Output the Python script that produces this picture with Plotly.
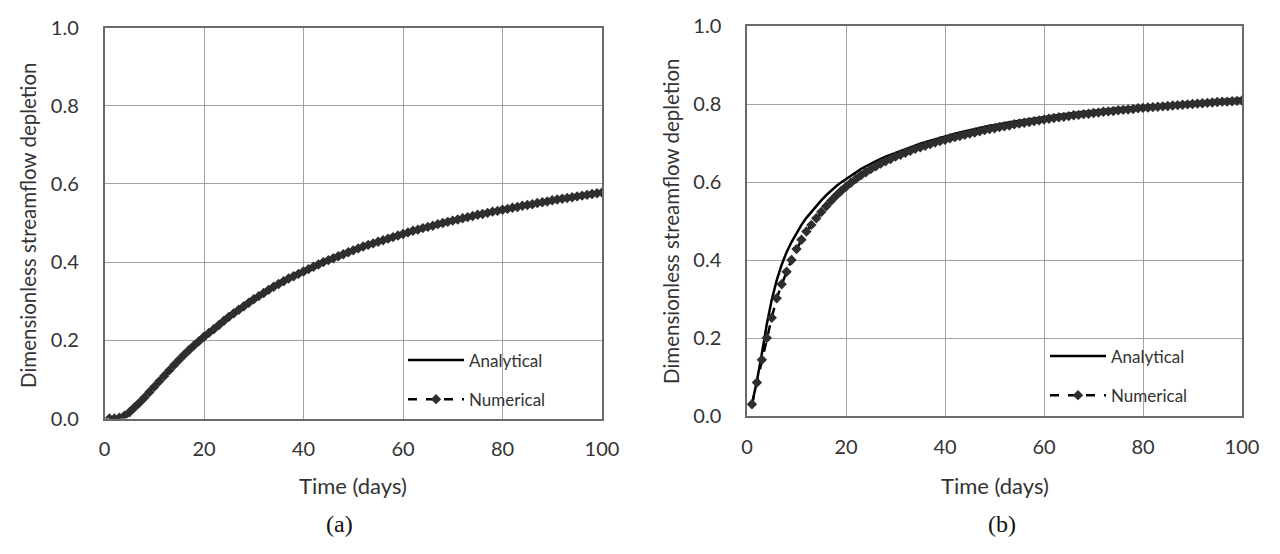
import plotly.graph_objects as go

# ---------------- data ----------------
days = list(range(1, 101))

# Panel (a)
analytical_a = [
    0.000, 0.000, 0.002, 0.008, 0.017, 0.029, 0.042, 0.056, 0.070, 0.084,
    0.098, 0.112, 0.126, 0.140, 0.153, 0.166, 0.178, 0.190, 0.201, 0.212,
    0.222, 0.232, 0.242, 0.252, 0.262, 0.271, 0.280, 0.289, 0.298, 0.307,
    0.315, 0.323, 0.331, 0.339, 0.346, 0.353, 0.360, 0.366, 0.372, 0.378,
    0.384, 0.390, 0.396, 0.402, 0.407, 0.412, 0.417, 0.422, 0.427, 0.432,
    0.437, 0.442, 0.446, 0.450, 0.454, 0.458, 0.462, 0.466, 0.470, 0.474,
    0.478, 0.482, 0.485, 0.489, 0.492, 0.495, 0.499, 0.502, 0.505, 0.508,
    0.511, 0.514, 0.517, 0.520, 0.523, 0.525, 0.528, 0.531, 0.533, 0.536,
    0.538, 0.541, 0.543, 0.546, 0.548, 0.550, 0.553, 0.555, 0.557, 0.560,
    0.562, 0.564, 0.566, 0.568, 0.570, 0.572, 0.574, 0.576, 0.578, 0.580,
]
numerical_a = [
    0.000, 0.000, 0.002, 0.007, 0.016, 0.028, 0.040, 0.053, 0.067, 0.081,
    0.095, 0.109, 0.123, 0.137, 0.150, 0.163, 0.175, 0.187, 0.198, 0.209,
    0.219, 0.229, 0.239, 0.250, 0.260, 0.269, 0.278, 0.287, 0.296, 0.305,
    0.313, 0.321, 0.329, 0.337, 0.344, 0.351, 0.358, 0.364, 0.370, 0.376,
    0.382, 0.388, 0.394, 0.400, 0.405, 0.410, 0.415, 0.420, 0.425, 0.430,
    0.435, 0.440, 0.444, 0.448, 0.452, 0.456, 0.460, 0.464, 0.468, 0.472,
    0.476, 0.480, 0.483, 0.487, 0.490, 0.493, 0.497, 0.500, 0.503, 0.506,
    0.509, 0.512, 0.515, 0.518, 0.521, 0.523, 0.526, 0.529, 0.531, 0.534,
    0.536, 0.539, 0.541, 0.544, 0.546, 0.548, 0.551, 0.553, 0.555, 0.558,
    0.560, 0.562, 0.564, 0.566, 0.568, 0.570, 0.572, 0.574, 0.576, 0.578,
]

# Panel (b)
analytical_b = [
    0.030, 0.090, 0.160, 0.235, 0.298, 0.348, 0.388, 0.420, 0.446, 0.470,
    0.490, 0.508, 0.524, 0.539, 0.553, 0.566, 0.578, 0.589, 0.599, 0.608,
    0.617, 0.625, 0.633, 0.640, 0.647, 0.653, 0.659, 0.665, 0.670, 0.675,
    0.680, 0.685, 0.689, 0.694, 0.698, 0.702, 0.706, 0.710, 0.714, 0.718,
    0.721, 0.724, 0.727, 0.730, 0.733, 0.736, 0.739, 0.741, 0.744, 0.746,
    0.749, 0.751, 0.753, 0.755, 0.757, 0.759, 0.761, 0.763, 0.765, 0.767,
    0.769, 0.770, 0.772, 0.774, 0.775, 0.777, 0.778, 0.780, 0.781, 0.783,
    0.784, 0.785, 0.787, 0.788, 0.789, 0.790, 0.792, 0.793, 0.794, 0.795,
    0.796, 0.797, 0.798, 0.799, 0.800, 0.801, 0.802, 0.803, 0.804, 0.805,
    0.806, 0.807, 0.808, 0.809, 0.809, 0.810, 0.811, 0.812, 0.813, 0.814,
]
numerical_b = [
    0.030, 0.086, 0.144, 0.200, 0.252, 0.302, 0.338, 0.370, 0.400, 0.428,
    0.452, 0.473, 0.490, 0.507, 0.523, 0.538, 0.552, 0.565, 0.577, 0.588,
    0.598, 0.608, 0.617, 0.625, 0.633, 0.640, 0.647, 0.653, 0.659, 0.665,
    0.670, 0.675, 0.680, 0.685, 0.689, 0.693, 0.697, 0.701, 0.705, 0.708,
    0.712, 0.715, 0.718, 0.721, 0.724, 0.727, 0.730, 0.733, 0.736, 0.738,
    0.741, 0.743, 0.745, 0.748, 0.750, 0.752, 0.754, 0.756, 0.758, 0.760,
    0.762, 0.764, 0.766, 0.767, 0.769, 0.771, 0.772, 0.774, 0.775, 0.777,
    0.778, 0.780, 0.781, 0.782, 0.784, 0.785, 0.786, 0.787, 0.789, 0.790,
    0.791, 0.792, 0.793, 0.794, 0.795, 0.796, 0.797, 0.798, 0.799, 0.800,
    0.801, 0.802, 0.803, 0.804, 0.805, 0.806, 0.806, 0.807, 0.808, 0.809,
]

x_ticks = [0, 20, 40, 60, 80, 100]
y_ticks = [0.0, 0.2, 0.4, 0.6, 0.8, 1.0]
series_names = ["Analytical", "Numerical"]
x_title = "Time (days)"
y_title = "Dimensionless streamflow depletion"
panel_labels = ["(a)", "(b)"]

# ---------------- figure ----------------
W, H = 1280, 554
PAGE_OFF = 8  # body margin of the html page
FONT = "Lato"
TXT = "#333333"
GRID = "#a3a3a3"
BORDER = "#6a6a6a"
MARK = "#2e2e2e"


def px_x(p):
    return (p - PAGE_OFF) / W


def px_y(p):
    return 1 - (p - PAGE_OFF) / H


fig = go.Figure()

panels = [
    dict(xa="x", ya="y", legend="legend", ana=analytical_a, num=numerical_a),
    dict(xa="x2", ya="y2", legend="legend2", ana=analytical_b, num=numerical_b),
]

for p in panels:
    fig.add_trace(go.Scatter(
        x=days, y=p["ana"], name=series_names[0], mode="lines",
        line=dict(color="black", width=2.5),
        xaxis=p["xa"], yaxis=p["ya"], legend=p["legend"],
        legendgroup=p["legend"] + "a",
    ))
    fig.add_trace(go.Scatter(
        x=days, y=p["num"], name=series_names[1], mode="lines+markers",
        line=dict(color="black", width=2.5, dash="dash"),
        marker=dict(symbol="diamond", size=8, color=MARK),
        xaxis=p["xa"], yaxis=p["ya"], legend=p["legend"],
        legendgroup=p["legend"] + "n",
    ))

axis_common = dict(
    showgrid=True, gridcolor=GRID, gridwidth=1,
    showline=True, linecolor=BORDER, linewidth=1.5, mirror=True,
    zeroline=False, ticks="", automargin=False,
    tickfont=dict(family=FONT, size=20, color=TXT),
)

fig.update_layout(
    width=W, height=H,
    margin=dict(l=0, r=0, t=0, b=0, autoexpand=False),
    paper_bgcolor="white", plot_bgcolor="white",
    font=dict(family=FONT, color=TXT),
    xaxis=dict(domain=[px_x(104.5), px_x(602)], range=[0, 100],
               tickvals=x_ticks, ticklabelstandoff=12, anchor="y", **axis_common),
    yaxis=dict(domain=[px_y(418.5), px_y(27.5)], range=[0, 1],
               tickvals=y_ticks, tickformat=".1f", ticklabelstandoff=20,
               anchor="x", **axis_common),
    xaxis2=dict(domain=[px_x(747), px_x(1242)], range=[0, 100],
                tickvals=x_ticks, ticklabelstandoff=12, anchor="y2", **axis_common),
    yaxis2=dict(domain=[px_y(416), px_y(26)], range=[0, 1],
                tickvals=y_ticks, tickformat=".1f", ticklabelstandoff=20,
                anchor="x2", **axis_common),
    legend=dict(x=px_x(403), y=px_y(342.5), xanchor="left", yanchor="top",
                bgcolor="rgba(0,0,0,0)", borderwidth=0, itemwidth=56,
                traceorder="grouped", tracegroupgap=14,
                font=dict(family=FONT, size=17, color=TXT)),
    legend2=dict(x=px_x(1045), y=px_y(338.5), xanchor="left", yanchor="top",
                 bgcolor="rgba(0,0,0,0)", borderwidth=0, itemwidth=56,
                 traceorder="grouped", tracegroupgap=14,
                 font=dict(family=FONT, size=17, color=TXT)),
)

annos = []
for cx, ycen, ytx in [(353, 225, 28), (994.5, 221, 671)]:
    annos.append(dict(text=x_title, x=px_x(cx), y=px_y(485), xref="paper", yref="paper",
                      showarrow=False, xanchor="center", yanchor="middle",
                      font=dict(family=FONT, size=22, color=TXT)))
    annos.append(dict(text=y_title, x=px_x(ytx), y=px_y(ycen), xref="paper", yref="paper",
                      showarrow=False, xanchor="center", yanchor="middle", textangle=-90,
                      font=dict(family=FONT, size=20.5, color=TXT)))
for lbl, cx in zip(panel_labels, [339, 1002]):
    annos.append(dict(text=lbl, x=px_x(cx), y=px_y(524), xref="paper", yref="paper",
                      showarrow=False, xanchor="center", yanchor="middle",
                      font=dict(family="Liberation Serif", size=24, color="#111111")))
fig.update_layout(annotations=annos)

fig.write_html("out.html")
